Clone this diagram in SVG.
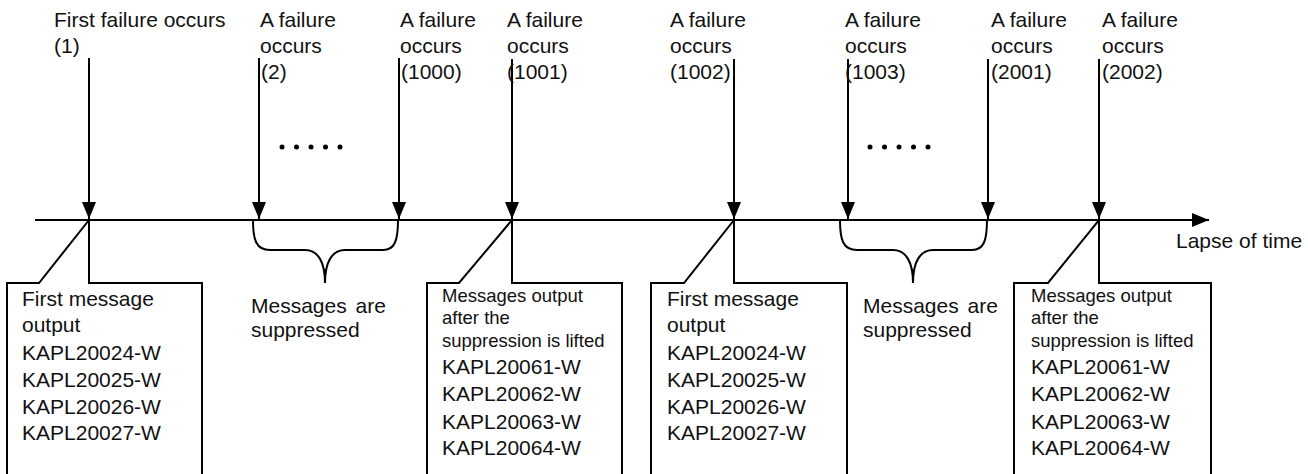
<svg xmlns="http://www.w3.org/2000/svg" width="1308" height="474" viewBox="0 0 1308 474">
<defs>
<style>
text{font-family:"Liberation Sans",Arial,sans-serif;fill:#111;}
.lbl{font-size:21px;}
.sm{font-size:18.5px;}
.ln{stroke:#000;stroke-width:2;fill:none;}
.box{stroke:#000;stroke-width:2;fill:#fff;stroke-linejoin:miter;}
.dot{fill:#000;}
</style>
<marker id="ah" markerUnits="userSpaceOnUse" markerWidth="18" markerHeight="15" refX="17" refY="7" orient="auto">
<path d="M0,0 L17,7 L0,14 Z" fill="#000"/>
</marker>
</defs>
<rect width="1308" height="474" fill="#fff"/>

<g id="connectors">
<line class="ln" x1="35" y1="220" x2="1209" y2="220" marker-end="url(#ah)"/>
<line class="ln" x1="89" y1="58" x2="89" y2="219" marker-end="url(#ah)"/>
<line class="ln" x1="259" y1="58" x2="259" y2="219" marker-end="url(#ah)"/>
<line class="ln" x1="399" y1="58" x2="399" y2="219" marker-end="url(#ah)"/>
<line class="ln" x1="512" y1="59" x2="512" y2="219" marker-end="url(#ah)"/>
<line class="ln" x1="734" y1="59" x2="734" y2="219" marker-end="url(#ah)"/>
<line class="ln" x1="848" y1="59" x2="848" y2="219" marker-end="url(#ah)"/>
<line class="ln" x1="988" y1="59" x2="988" y2="219" marker-end="url(#ah)"/>
<line class="ln" x1="1099" y1="59" x2="1099" y2="219" marker-end="url(#ah)"/>
</g>

<g id="ev1"><text class="lbl" x="54" y="27">First failure occurs</text><text class="lbl" x="54" y="53">(1)</text></g>
<g id="ev2"><text class="lbl" x="260" y="27">A failure</text><text class="lbl" x="260" y="53">occurs</text><text class="lbl" x="261" y="79">(2)</text></g>
<g id="ev3"><text class="lbl" x="400" y="27">A failure</text><text class="lbl" x="400" y="53">occurs</text><text class="lbl" x="401" y="79">(1000)</text></g>
<g id="ev4"><text class="lbl" x="507" y="27">A failure</text><text class="lbl" x="507" y="53">occurs</text><text class="lbl" x="507" y="79">(1001)</text></g>
<g id="ev5"><text class="lbl" x="670" y="27">A failure</text><text class="lbl" x="670" y="53">occurs</text><text class="lbl" x="670" y="79">(1002)</text></g>
<g id="ev6"><text class="lbl" x="845" y="27">A failure</text><text class="lbl" x="845" y="53">occurs</text><text class="lbl" x="845" y="79">(1003)</text></g>
<g id="ev7"><text class="lbl" x="991" y="27">A failure</text><text class="lbl" x="991" y="53">occurs</text><text class="lbl" x="991" y="79">(2001)</text></g>
<g id="ev8"><text class="lbl" x="1102" y="27">A failure</text><text class="lbl" x="1102" y="53">occurs</text><text class="lbl" x="1102" y="79">(2002)</text></g>

<g id="dots1">
<circle class="dot" cx="282" cy="147" r="2.5"/><circle class="dot" cx="296.5" cy="147" r="2.5"/><circle class="dot" cx="311" cy="147" r="2.5"/><circle class="dot" cx="325.5" cy="147" r="2.5"/><circle class="dot" cx="340" cy="147" r="2.5"/>
</g>
<g id="dots2">
<circle class="dot" cx="870" cy="147" r="2.5"/><circle class="dot" cx="884.5" cy="147" r="2.5"/><circle class="dot" cx="899" cy="147" r="2.5"/><circle class="dot" cx="913.5" cy="147" r="2.5"/><circle class="dot" cx="928" cy="147" r="2.5"/>
</g>

<g id="brace1">
<path class="ln" d="M253,220 C253,240 256,250 270,250 L305,250 C318,250 325,262 325,283 C325,262 332,250 345,250 L383,250 C395,250 398,240 398,220"/>
<text class="lbl" x="251" y="313" word-spacing="3">Messages are</text>
<text class="lbl" x="251" y="337">suppressed</text>
</g>
<g id="brace2">
<path class="ln" d="M840,220 C840,240 843,250 857,250 L893,250 C906,250 913,262 913,283 C913,262 920,250 933,250 L972,250 C984,250 987,240 987,220"/>
<text class="lbl" x="863" y="313" word-spacing="3">Messages are</text>
<text class="lbl" x="863" y="337">suppressed</text>
</g>

<g id="box1">
<path class="box" d="M7,283 L39,283 L89,220 L89,283 L202,283 L202,480 L7,480 Z"/>
<text class="lbl" x="22" y="306">First message</text>
<text class="lbl" x="22" y="332">output</text>
<text class="lbl" x="22" y="360">KAPL20024-W</text>
<text class="lbl" x="22" y="387">KAPL20025-W</text>
<text class="lbl" x="22" y="414">KAPL20026-W</text>
<text class="lbl" x="22" y="440">KAPL20027-W</text>
</g>
<g id="box2">
<path class="box" d="M427,283 L459,283 L512,220 L512,283 L622,283 L622,480 L427,480 Z"/>
<text class="sm" x="442" y="302">Messages output</text>
<text class="sm" x="442" y="324">after the</text>
<text class="sm" x="442" y="347">suppression is lifted</text>
<text class="lbl" x="442" y="374">KAPL20061-W</text>
<text class="lbl" x="442" y="401">KAPL20062-W</text>
<text class="lbl" x="442" y="429">KAPL20063-W</text>
<text class="lbl" x="442" y="455">KAPL20064-W</text>
</g>
<g id="box3">
<path class="box" d="M651,283 L684,283 L734,220 L734,283 L847,283 L847,480 L651,480 Z"/>
<text class="lbl" x="667" y="306">First message</text>
<text class="lbl" x="667" y="332">output</text>
<text class="lbl" x="667" y="360">KAPL20024-W</text>
<text class="lbl" x="667" y="387">KAPL20025-W</text>
<text class="lbl" x="667" y="414">KAPL20026-W</text>
<text class="lbl" x="667" y="440">KAPL20027-W</text>
</g>
<g id="box4">
<path class="box" d="M1014,283 L1048,283 L1099,220 L1099,283 L1211,283 L1211,480 L1014,480 Z"/>
<text class="sm" x="1031" y="302">Messages output</text>
<text class="sm" x="1031" y="324">after the</text>
<text class="sm" x="1031" y="347">suppression is lifted</text>
<text class="lbl" x="1031" y="374">KAPL20061-W</text>
<text class="lbl" x="1031" y="401">KAPL20062-W</text>
<text class="lbl" x="1031" y="429">KAPL20063-W</text>
<text class="lbl" x="1031" y="455">KAPL20064-W</text>
</g>

<g id="time-label"><text class="lbl" x="1176" y="248">Lapse of time</text></g>
</svg>
